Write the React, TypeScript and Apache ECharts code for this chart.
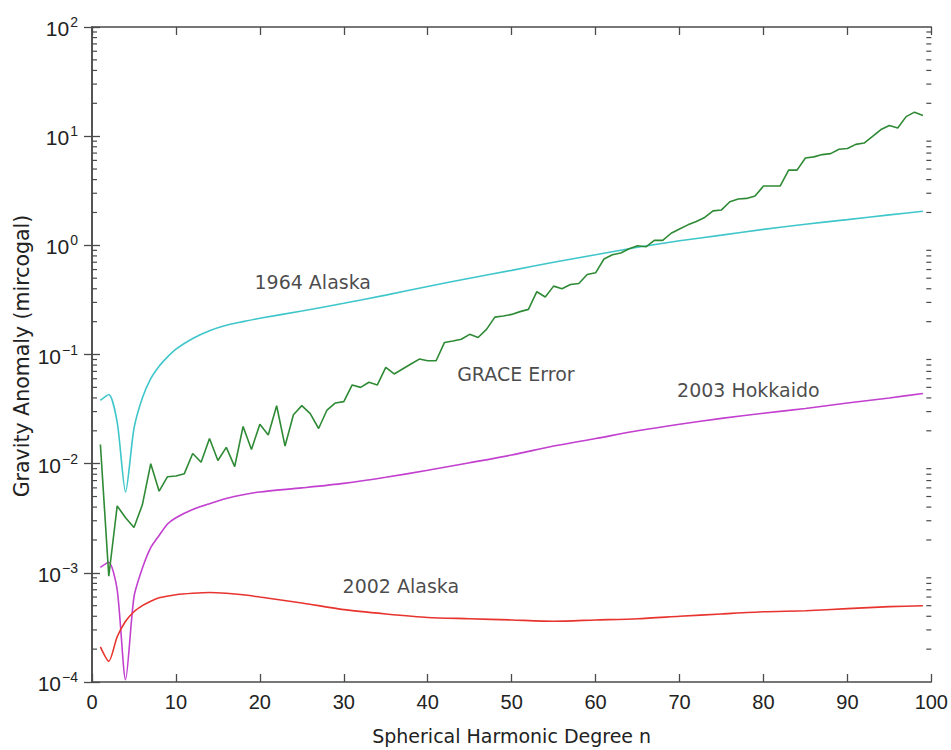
import React, { useEffect, useRef } from "react";
import * as echarts from "echarts";

const X_TICKS = [0, 10, 20, 30, 40, 50, 60, 70, 80, 90, 100];
const DECADES = [-4, -3, -2, -1, 0, 1];
const MINOR_MULT = [2, 3, 4, 5, 6, 7, 8, 9];

const alaska1964: [number, number][] = [
  [1, 0.038], [2, 0.043], [3, 0.024], [4, 0.0055], [5, 0.021], [6, 0.04], [7, 0.06], [8, 0.078],
  [9, 0.095], [10, 0.112], [12, 0.14], [14, 0.165], [16, 0.185], [18, 0.2], [20, 0.215],
  [25, 0.25], [30, 0.295], [35, 0.35], [40, 0.42], [45, 0.5], [50, 0.59], [55, 0.7],
  [60, 0.82], [65, 0.96], [70, 1.1], [75, 1.24], [80, 1.4], [85, 1.56], [90, 1.72], [95, 1.9], [99, 2.05],
];

const hokkaido2003: [number, number][] = [
  [1, 0.00112], [2, 0.00125], [3, 0.0007], [4, 0.000105], [5, 0.0006], [6, 0.0011], [7, 0.0017],
  [8, 0.0022], [9, 0.0028], [10, 0.0032], [12, 0.0038], [14, 0.0043], [16, 0.0048], [18, 0.0052],
  [20, 0.0055], [25, 0.006], [30, 0.0066], [35, 0.0075], [40, 0.0087], [45, 0.0102], [50, 0.012],
  [55, 0.0145], [60, 0.017], [65, 0.02], [70, 0.023], [75, 0.026], [80, 0.029], [85, 0.032],
  [90, 0.036], [95, 0.04], [99, 0.044],
];

const alaska2002: [number, number][] = [
  [1, 0.00021], [2, 0.000155], [3, 0.00026], [4, 0.00036], [5, 0.00044], [6, 0.0005], [7, 0.00055],
  [8, 0.00059], [10, 0.00063], [12, 0.00065], [14, 0.00066], [16, 0.00065], [18, 0.00063],
  [20, 0.0006], [25, 0.00053], [30, 0.00046], [35, 0.00042], [40, 0.00039], [45, 0.00038],
  [50, 0.00037], [55, 0.00036], [60, 0.00037], [65, 0.00038], [70, 0.0004], [75, 0.00042],
  [80, 0.00044], [85, 0.00045], [90, 0.00047], [95, 0.00049], [99, 0.0005],
];

const graceError: number[] = [
  0.015, 0.00093, 0.0041, 0.0032, 0.0026, 0.0042, 0.010, 0.0056, 0.0076, 0.0077,
  0.0081, 0.0124, 0.0103, 0.017, 0.0107, 0.0141, 0.0094, 0.0219, 0.0135, 0.023,
  0.0183, 0.0339, 0.0145, 0.0281, 0.034, 0.0287, 0.021, 0.031, 0.036, 0.037,
  0.0526, 0.05, 0.0557, 0.0526, 0.0762, 0.0663, 0.0736, 0.0818, 0.0908, 0.0877,
  0.0877, 0.129, 0.133, 0.138, 0.153, 0.143, 0.17, 0.22, 0.225, 0.233,
  0.247, 0.259, 0.376, 0.336, 0.423, 0.40, 0.437, 0.447, 0.54, 0.56,
  0.75, 0.82, 0.85, 0.93, 0.99, 0.97, 1.11, 1.11, 1.29, 1.41,
  1.54, 1.65, 1.80, 2.07, 2.11, 2.51, 2.66, 2.69, 2.83, 3.49,
  3.5, 3.5, 4.89, 4.89, 6.3, 6.46, 6.78, 6.92, 7.59, 7.7,
  8.41, 8.65, 9.95, 11.5, 12.5, 11.9, 15.1, 16.6, 15.5,
];
const graceDegrees: number[] = graceError.map((_, i) => i + 1);

const annotations: [number, number, string][] = [
  [26.3, 0.457, "1964 Alaska"],
  [50.5, 0.066, "GRACE Error"],
  [78.2, 0.047, "2003 Hokkaido"],
  [36.8, 0.00076, "2002 Alaska"],
];

const Y_TITLE = "Gravity Anomaly (mircogal)";
const X_TITLE = "Spherical Harmonic Degree n";

const TEXT_FONT = "DejaVu Sans";
const TICK_FONT = "Liberation Sans";
const AXIS_COLOR = "#4a4a4a";

export default function App() {
  const ref = useRef<HTMLDivElement>(null);
  useEffect(() => {
    if (!ref.current) return;
    const chart = echarts.init(ref.current, undefined, { renderer: "svg" });
    const minorTicks: number[][] = [];
    DECADES.forEach((d) => MINOR_MULT.forEach((m) => minorTicks.push([0, m * Math.pow(10, d)])));

    const sup = (v: number) => {
      const e = Math.round(Math.log10(v));
      const s = e < 0 ? "\u2212" + Math.abs(e) : String(e);
      return `{b|10}{e|${s}}`;
    };

    const yCommon = {
      type: "log" as const,
      logBase: 10,
      min: 1e-4,
      max: 100,
      splitNumber: 6,
      splitLine: { show: false },
      axisLine: { show: true, lineStyle: { color: AXIS_COLOR, width: 1.5 } },
      axisTick: { show: true, inside: true, length: 8, lineStyle: { color: AXIS_COLOR, width: 1.3 } },
    };
    const xCommon = {
      type: "value" as const,
      min: X_TICKS[0],
      max: X_TICKS[X_TICKS.length - 1],
      interval: 10,
      splitLine: { show: false },
      axisLine: { show: true, onZero: false, lineStyle: { color: AXIS_COLOR, width: 1.5 } },
      axisTick: { show: true, inside: true, length: 8, lineStyle: { color: AXIS_COLOR, width: 1.3 } },
    };

    chart.setOption({
      animation: false,
      backgroundColor: "#ffffff",
      grid: { left: 92, right: 19, top: 27, bottom: 66, containLabel: false },
      graphic: [
        {
          type: "text",
          x: 22,
          y: 356,
          rotation: Math.PI / 2,
          silent: true,
          style: {
            text: Y_TITLE,
            fontFamily: TEXT_FONT,
            fontSize: 20.5,
            fill: "#222",
            textAlign: "center",
            textVerticalAlign: "middle",
          },
        },
      ],
      xAxis: [
        {
          ...xCommon,
          position: "bottom",
          name: X_TITLE,
          nameLocation: "middle",
          nameGap: 44,
          nameTextStyle: { fontFamily: TEXT_FONT, fontSize: 19, color: "#222" },
          axisLabel: { fontFamily: TICK_FONT, fontSize: 20, color: "#222", margin: 10 },
        },
        { ...xCommon, position: "top", axisLabel: { show: false } },
      ],
      yAxis: [
        {
          ...yCommon,
          position: "left",
          axisLabel: {
            margin: 14,
            formatter: (v: number) => sup(v),
            rich: {
              b: { fontFamily: TICK_FONT, fontSize: 21, color: "#222", lineHeight: 24, verticalAlign: "bottom" },
              e: { fontFamily: TICK_FONT, fontSize: 14, color: "#222", lineHeight: 24, verticalAlign: "top", padding: [0, 0, 10, 1] },
            },
          },
        },
        { ...yCommon, position: "right", axisLabel: { show: false } },
      ],
      series: [
        {
          type: "custom",
          name: "minor",
          silent: true,
          clip: false,
          xAxisIndex: 0,
          yAxisIndex: 0,
          encode: { x: 0, y: 1 },
          data: minorTicks,
          renderItem: (params: any, api: any) => {
            const v = api.value(1);
            const l = api.coord([0, v]);
            const r = api.coord([100, v]);
            const st = { stroke: AXIS_COLOR, lineWidth: 1.2 };
            return {
              type: "group",
              children: [
                { type: "line", shape: { x1: l[0], y1: l[1], x2: l[0] + 5, y2: l[1] }, style: st },
                { type: "line", shape: { x1: r[0] - 5, y1: r[1], x2: r[0], y2: r[1] }, style: st },
              ],
            };
          },
        },
        {
          type: "line",
          name: "1964 Alaska",
          data: alaska1964,
          showSymbol: false,
          smooth: 0.25,
          lineStyle: { color: "#3fc6cb", width: 1.6 },
        },
        {
          type: "line",
          name: "2003 Hokkaido",
          data: hokkaido2003,
          showSymbol: false,
          smooth: 0.25,
          lineStyle: { color: "#c23fcf", width: 1.6 },
        },
        {
          type: "line",
          name: "2002 Alaska",
          data: alaska2002,
          showSymbol: false,
          smooth: 0.25,
          lineStyle: { color: "#e8342f", width: 1.6 },
        },
        {
          type: "line",
          name: "GRACE Error",
          data: graceDegrees.map((n, i) => [n, graceError[i]]),
          showSymbol: false,
          lineStyle: { color: "#2f8a35", width: 1.6 },
        },
        {
          type: "scatter",
          name: "labels",
          silent: true,
          symbolSize: 0,
          data: annotations.map((a) => ({ value: [a[0], a[1]], name: a[2] })),
          label: {
            show: true,
            position: "inside",
            formatter: (p: any) => p.name,
            fontFamily: TEXT_FONT,
            fontSize: 19,
            color: "#1a1a1a",
          },
        },
      ],
    });
    return () => chart.dispose();
  }, []);
  return <div ref={ref} style={{ position: "fixed", left: 0, top: 0, width: 951, height: 750 }} />;
}
